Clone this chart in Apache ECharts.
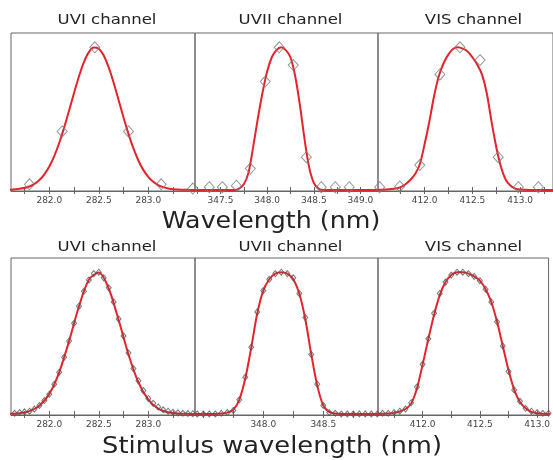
<!DOCTYPE html>
<html>
<head>
<meta charset="utf-8">
<title>Channel response</title>
<script src="https://cdn.jsdelivr.net/npm/echarts@6/dist/echarts.min.js"></script>
<style>
html, body { margin: 0; padding: 0; background: #fff; }
#chart { width: 553px; height: 460px; }
</style>
</head>
<body>
<div id="chart"></div>
<script>
// ---- data (wavelength in nm, response normalised to peak) ----

// top row: sparse measurements + fit
const uviTopPtX = [281.80, 282.13, 282.46, 282.80, 283.13, 283.45]
const uviTopPtY = [0.04, 0.41, 1.00, 0.41, 0.04, 0.01]
const uviTopFitX = [281.60, 281.70, 281.80, 281.85, 281.90, 281.95, 282.00, 282.05, 282.10, 282.15, 282.20, 282.25, 282.30, 282.35, 282.40, 282.45, 282.50, 282.55, 282.60, 282.65, 282.70, 282.75, 282.80, 282.85, 282.90, 282.95, 283.00, 283.05, 283.10, 283.15, 283.20, 283.30, 283.40, 283.50]
const uviTopFitY = [0.002, 0.008, 0.025, 0.043, 0.070, 0.110, 0.165, 0.238, 0.329, 0.437, 0.557, 0.680, 0.797, 0.896, 0.966, 0.998, 0.990, 0.942, 0.859, 0.752, 0.631, 0.508, 0.393, 0.291, 0.207, 0.141, 0.092, 0.058, 0.035, 0.020, 0.011, 0.003, 0.001, 0]

const uviiTopPtX = [347.38, 347.52, 347.67, 347.82, 347.98, 348.13, 348.28, 348.42, 348.58, 348.73, 348.88]
const uviiTopPtY = [0.02, 0.02, 0.03, 0.15, 0.76, 1.00, 0.875, 0.23, 0.02, 0.02, 0.02]
const uviiTopFitX = [347.20, 347.50, 347.65, 347.70, 347.75, 347.80, 347.85, 347.90, 347.95, 348.00, 348.05, 348.10, 348.15, 348.20, 348.25, 348.30, 348.35, 348.40, 348.45, 348.50, 348.55, 348.60, 348.75, 349.20]
const uviiTopFitY = [0, 0, 0, 0.01, 0.04, 0.12, 0.30, 0.50, 0.68, 0.83, 0.93, 0.98, 1.00, 0.98, 0.93, 0.80, 0.60, 0.36, 0.16, 0.05, 0.01, 0, 0, 0]

const visTopPtX = [411.53, 411.74, 411.95, 412.16, 412.37, 412.58, 412.77, 412.98, 413.19]
const visTopPtY = [0.02, 0.025, 0.175, 0.81, 1.00, 0.91, 0.23, 0.02, 0.02]
const visTopFitX = [411.50, 411.60, 411.70, 411.75, 411.80, 411.85, 411.90, 411.95, 412.00, 412.05, 412.10, 412.15, 412.20, 412.25, 412.30, 412.35, 412.40, 412.45, 412.50, 412.55, 412.60, 412.65, 412.70, 412.75, 412.80, 412.85, 412.90, 412.95, 413.00, 413.10, 413.40]
const visTopFitY = [0, 0.003, 0.01, 0.02, 0.04, 0.07, 0.11, 0.18, 0.32, 0.48, 0.66, 0.80, 0.89, 0.95, 0.99, 1.00, 0.99, 0.97, 0.93, 0.88, 0.81, 0.68, 0.48, 0.30, 0.16, 0.07, 0.03, 0.01, 0.003, 0, 0]

// bottom row: dense stimulus scan + fit
const uviBotPtX = [281.60, 281.65, 281.70, 281.75, 281.80, 281.85, 281.90, 281.95, 282.00, 282.05, 282.10, 282.15, 282.20, 282.25, 282.30, 282.35, 282.40, 282.45, 282.50, 282.55, 282.60, 282.65, 282.70, 282.75, 282.80, 282.85, 282.90, 282.95, 283.00, 283.05, 283.10, 283.15, 283.20, 283.25, 283.30, 283.35, 283.40, 283.45]
const uviBotPtY = [0.00, 0.005, 0.01, 0.015, 0.02, 0.035, 0.06, 0.095, 0.14, 0.21, 0.295, 0.40, 0.515, 0.64, 0.76, 0.865, 0.945, 0.99, 1.00, 0.96, 0.89, 0.79, 0.67, 0.55, 0.43, 0.32, 0.235, 0.165, 0.11, 0.075, 0.05, 0.03, 0.02, 0.012, 0.008, 0.005, 0.003, 0.002]
const uviBotFitX = [281.6, 281.7, 281.8, 281.9, 282.0, 282.1, 282.2, 282.3, 282.4, 282.5, 282.6, 282.7, 282.8, 282.9, 283.0, 283.1, 283.2, 283.3, 283.4, 283.5]
const uviBotFitY = [0.001, 0.006, 0.020, 0.058, 0.142, 0.294, 0.515, 0.760, 0.947, 0.997, 0.885, 0.664, 0.420, 0.224, 0.101, 0.038, 0.012, 0.003, 0.001, 0]

const uviiBotPtX = [347.45, 347.50, 347.55, 347.60, 347.65, 347.70, 347.75, 347.80, 347.85, 347.90, 347.95, 348.00, 348.05, 348.10, 348.15, 348.20, 348.25, 348.30, 348.35, 348.40, 348.45, 348.50, 348.55, 348.60, 348.65, 348.70, 348.75, 348.80, 348.85, 348.90, 348.95]
const uviiBotPtY = [0, 0, 0, 0, 0.005, 0.01, 0.025, 0.10, 0.26, 0.47, 0.72, 0.87, 0.95, 0.99, 1.00, 0.99, 0.96, 0.85, 0.68, 0.42, 0.21, 0.06, 0.01, 0.005, 0, 0, 0, 0, 0, 0, 0]
const uviiBotFitX = [347.40, 347.60, 347.65, 347.70, 347.75, 347.80, 347.85, 347.90, 347.95, 348.00, 348.05, 348.10, 348.15, 348.20, 348.25, 348.30, 348.35, 348.40, 348.45, 348.50, 348.55, 348.60, 348.65, 349.00]
const uviiBotFitY = [0, 0, 0.003, 0.01, 0.03, 0.10, 0.25, 0.47, 0.71, 0.87, 0.95, 0.99, 1.00, 0.99, 0.95, 0.85, 0.67, 0.42, 0.20, 0.06, 0.015, 0.003, 0, 0]

const visBotPtX = [411.60, 411.65, 411.70, 411.75, 411.80, 411.85, 411.90, 411.95, 412.00, 412.05, 412.10, 412.15, 412.20, 412.25, 412.30, 412.35, 412.40, 412.45, 412.50, 412.55, 412.60, 412.65, 412.70, 412.75, 412.80, 412.85, 412.90, 412.95, 413.00, 413.05, 413.10]
const visBotPtY = [0, 0.005, 0.005, 0.01, 0.02, 0.035, 0.08, 0.19, 0.35, 0.53, 0.71, 0.85, 0.93, 0.98, 1.00, 1.00, 0.99, 0.97, 0.94, 0.88, 0.79, 0.65, 0.48, 0.30, 0.17, 0.09, 0.04, 0.02, 0.01, 0.005, 0.005]
const visBotFitX = [411.50, 411.70, 411.75, 411.80, 411.85, 411.90, 411.95, 412.00, 412.05, 412.10, 412.15, 412.20, 412.25, 412.30, 412.35, 412.40, 412.45, 412.50, 412.55, 412.60, 412.65, 412.70, 412.75, 412.80, 412.85, 412.90, 412.95, 413.00, 413.05, 413.20]
const visBotFitY = [0, 0.003, 0.008, 0.018, 0.035, 0.075, 0.18, 0.35, 0.53, 0.70, 0.84, 0.93, 0.98, 1.00, 1.00, 0.99, 0.97, 0.94, 0.88, 0.79, 0.65, 0.48, 0.31, 0.17, 0.085, 0.04, 0.015, 0.005, 0.002, 0]

// axis ranges and tick labels
const uviTopRange = [281.613, 283.472]
const uviiTopRange = [347.227, 349.188]
const visTopRange = [411.513, 413.343]
const uviBotRange = [281.613, 283.472]
const uviiBotRange = [347.431, 348.956]
const visBotRange = [411.610, 413.100]

const uviTopLabels = [282.0, 282.5, 283.0]
const uviiTopLabels = [347.5, 348.0, 348.5, 349.0]
const visTopLabels = [412.0, 412.5, 413.0]
const uviBotLabels = [282.0, 282.5, 283.0]
const uviiBotLabels = [348.0, 348.5]
const visBotLabels = [412.0, 412.5, 413.0]

const yRange = [-0.007, 1.1]

// ---- layout ----
const rows = [
    { top: 33, height: 158, titleY: 20, symbolSize: [10, 11], symbolColor: '#7a7a7a' },
    { top: 258, height: 157, titleY: 247, symbolSize: [5, 6], symbolColor: '#555' },
]

const panels = [
    { title: 'UVI channel', row: 0, left: 11, width: 184, range: uviTopRange, labels: uviTopLabels, ptX: uviTopPtX, ptY: uviTopPtY, fitX: uviTopFitX, fitY: uviTopFitY },
    { title: 'UVII channel', row: 0, left: 195, width: 183, range: uviiTopRange, labels: uviiTopLabels, ptX: uviiTopPtX, ptY: uviiTopPtY, fitX: uviiTopFitX, fitY: uviiTopFitY },
    { title: 'VIS channel', row: 0, left: 378, width: 183, range: visTopRange, labels: visTopLabels, ptX: visTopPtX, ptY: visTopPtY, fitX: visTopFitX, fitY: visTopFitY },
    { title: 'UVI channel', row: 1, left: 11, width: 184, range: uviBotRange, labels: uviBotLabels, ptX: uviBotPtX, ptY: uviBotPtY, fitX: uviBotFitX, fitY: uviBotFitY },
    { title: 'UVII channel', row: 1, left: 195, width: 183, range: uviiBotRange, labels: uviiBotLabels, ptX: uviiBotPtX, ptY: uviiBotPtY, fitX: uviiBotFitX, fitY: uviiBotFitY },
    { title: 'VIS channel', row: 1, left: 378, width: 183, range: visBotRange, labels: visBotLabels, ptX: visBotPtX, ptY: visBotPtY, fitX: visBotFitX, fitY: visBotFitY },
]

const FONT = 'DejaVu Sans'
const FRAME = '#666'
const RED = '#e5232b'

// minor ticks every 0.25 nm inside the range
function quarterTicks(range) {
    const ticks = []
    for (let k = Math.ceil(range[0] * 4); k <= Math.floor(range[1] * 4); k++) {
        ticks.push(k / 4)
    }
    return ticks
}

function zip(xs, ys) {
    return xs.map((x, i) => [x, ys[i]])
}

function label(text, x, y, size, stretch) {
    return {
        type: 'text',
        x: x,
        y: y,
        scaleX: stretch,
        style: {
            text: text,
            font: size + 'px "' + FONT + '"',
            fill: '#222',
            align: 'center',
            verticalAlign: 'middle',
        },
    }
}

const grids = []
const xAxes = []
const yAxes = []
const series = []
const graphics = []

panels.forEach((p, i) => {
    const row = rows[p.row]
    grids.push({
        left: p.left,
        top: row.top,
        width: p.width,
        height: row.height,
        show: true,
        borderColor: FRAME,
        borderWidth: 1,
        backgroundColor: 'transparent',
    })
    const ticks = quarterTicks(p.range)
    xAxes.push({
        gridIndex: i,
        type: 'value',
        position: 'bottom',
        min: p.range[0],
        max: p.range[1],
        axisLine: { show: true, onZero: false, lineStyle: { color: FRAME, width: 1 } },
        axisTick: { show: true, inside: true, length: 4, customValues: ticks, lineStyle: { color: FRAME } },
        axisLabel: {
            show: true,
            customValues: p.labels,
            formatter: (v) => v.toFixed(1),
            fontFamily: FONT,
            fontSize: 9,
            color: '#444',
            margin: 5,
        },
        splitLine: { show: false },
    })
    yAxes.push({
        gridIndex: i,
        type: 'value',
        min: yRange[0],
        max: yRange[1],
        show: false,
        splitLine: { show: false },
    })
    series.push({
        type: 'line',
        xAxisIndex: i,
        yAxisIndex: i,
        data: zip(p.fitX, p.fitY),
        showSymbol: false,
        smooth: 0.3,
        lineStyle: { color: RED, width: 2 },
        z: 2,
        silent: true,
    })
    series.push({
        type: 'scatter',
        xAxisIndex: i,
        yAxisIndex: i,
        data: zip(p.ptX, p.ptY),
        symbol: 'diamond',
        symbolSize: row.symbolSize,
        itemStyle: { color: 'rgba(0,0,0,0)', borderColor: row.symbolColor, borderWidth: 1 },
        z: 3,
        silent: true,
    })
    graphics.push(label(p.title, p.left + p.width / 2 + 4, row.titleY, 14, 1.18))
})

// top axes only carry the inner tick marks
panels.forEach((p, i) => {
    xAxes.push({
        gridIndex: i,
        type: 'value',
        position: 'top',
        min: p.range[0],
        max: p.range[1],
        axisLine: { show: false },
        axisTick: { show: true, inside: true, length: 4, customValues: quarterTicks(p.range), lineStyle: { color: FRAME } },
        axisLabel: { show: false },
        splitLine: { show: false },
    })
})

graphics.push(label('Wavelength (nm)', 271, 222, 23, 1.1))
graphics.push(label('Stimulus wavelength (nm)', 272, 447, 23, 1.12))

const chart = echarts.init(document.getElementById('chart'), null, { renderer: 'canvas' })
chart.setOption({
    animation: false,
    backgroundColor: '#fff',
    grid: grids,
    xAxis: xAxes,
    yAxis: yAxes,
    series: series,
    graphic: graphics,
})
</script>
</body>
</html>
